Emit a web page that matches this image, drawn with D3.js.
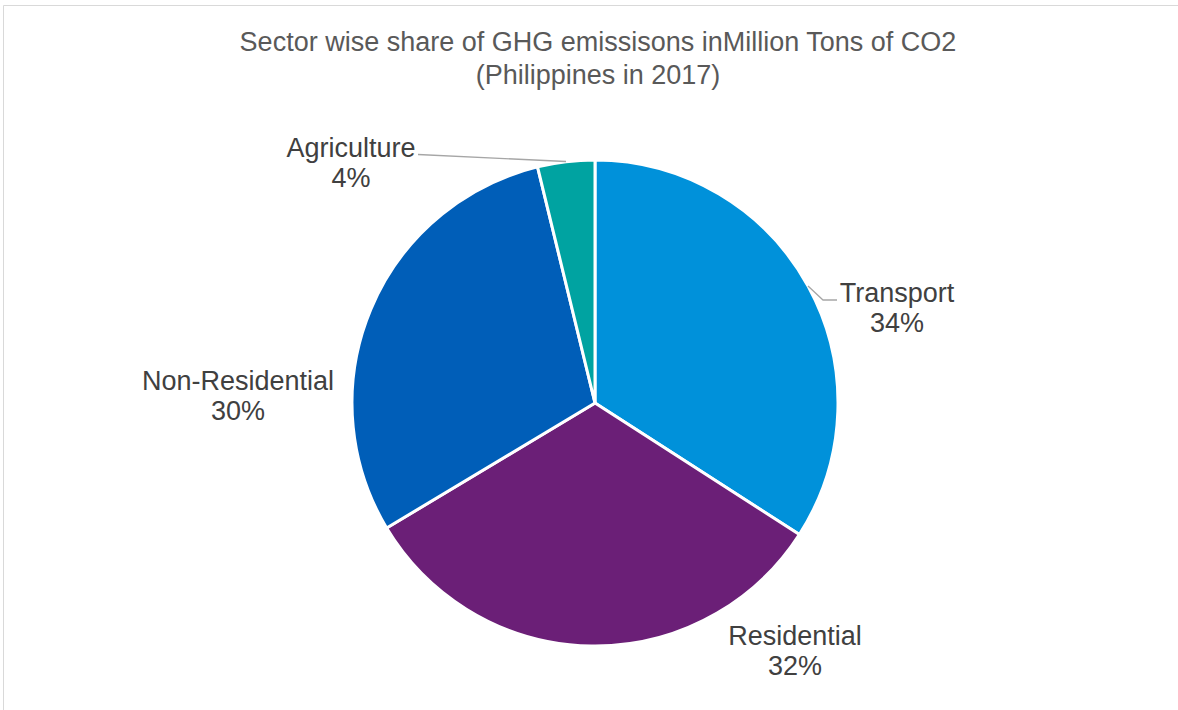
<!DOCTYPE html>
<html>
<head>
<meta charset="utf-8">
<script src="https://cdn.jsdelivr.net/npm/d3@7"></script>
<style>
	body { margin: 0; background: #fff; }
	svg { display: block; }
	text { font-family: "Liberation Sans", Arimo, Helvetica, sans-serif; }
</style>
</head>
<body>
<svg id="chart" width="1178" height="710"></svg>
<script>
// data
const sectors = ["Transport", "Residential", "Non-Residential", "Agriculture"];
const shares = [34.1, 32.3, 29.8, 3.8];
const shareLabels = ["34%", "32%", "30%", "4%"];
const colours = ["#0091da", "#6b1f77", "#005eb8", "#00a3a1"];

// label anchors (center x, first baseline y)
const labelPos = [[897, 302], [795, 645], [238, 390], [351, 157]];

const width = 1178, height = 710;
const cx = 595, cy = 403, radius = 243;

var svg = d3.select("#chart");

// chart frame
svg.append("path")
	.attr("d", "M3.5,710 V5.5 H1178")
	.attr("fill", "none")
	.attr("stroke", "#d9d9d9")
	.attr("stroke-width", 1);

// title
var title = svg.append("text")
	.attr("text-anchor", "middle")
	.attr("fill", "#595959")
	.style("font-size", "27px");
title.append("tspan").attr("x", 598).attr("y", 51)
	.text("Sector wise share of GHG emissisons inMillion Tons of CO2");
title.append("tspan").attr("x", 598).attr("y", 84)
	.text("(Philippines in 2017)");

var pie = d3.pie().sort(null).value(d => d);
var arc = d3.arc().innerRadius(0).outerRadius(radius);
var arcs = pie(shares);

var g = svg.append("g").attr("transform", `translate(${cx},${cy})`);

g.selectAll("path")
	.data(arcs)
	.enter()
	.append("path")
	.attr("d", arc)
	.attr("fill", (d, i) => colours[i])
	.attr("stroke", "#fff")
	.attr("stroke-width", 3);

// leader lines (only the labels that sit away from their slice)
var leader = d3.line();
svg.append("path")
	.attr("d", leader([[418, 154.5], [566, 161.5]]))
	.attr("fill", "none").attr("stroke", "#a6a6a6").attr("stroke-width", 1.3);
svg.append("path")
	.attr("d", leader([[808, 286], [823, 300], [837, 300]]))
	.attr("fill", "none").attr("stroke", "#a6a6a6").attr("stroke-width", 1.3);

// data labels
var labels = svg.selectAll(".lbl")
	.data(arcs)
	.enter()
	.append("text")
	.attr("class", "lbl")
	.attr("text-anchor", "middle")
	.attr("fill", "#404040")
	.style("font-size", "27px");

labels.append("tspan")
	.attr("x", (d, i) => labelPos[i][0])
	.attr("y", (d, i) => labelPos[i][1])
	.text((d, i) => sectors[i]);
labels.append("tspan")
	.attr("x", (d, i) => labelPos[i][0])
	.attr("y", (d, i) => labelPos[i][1] + 30)
	.text((d, i) => shareLabels[i]);
</script>
</body>
</html>
